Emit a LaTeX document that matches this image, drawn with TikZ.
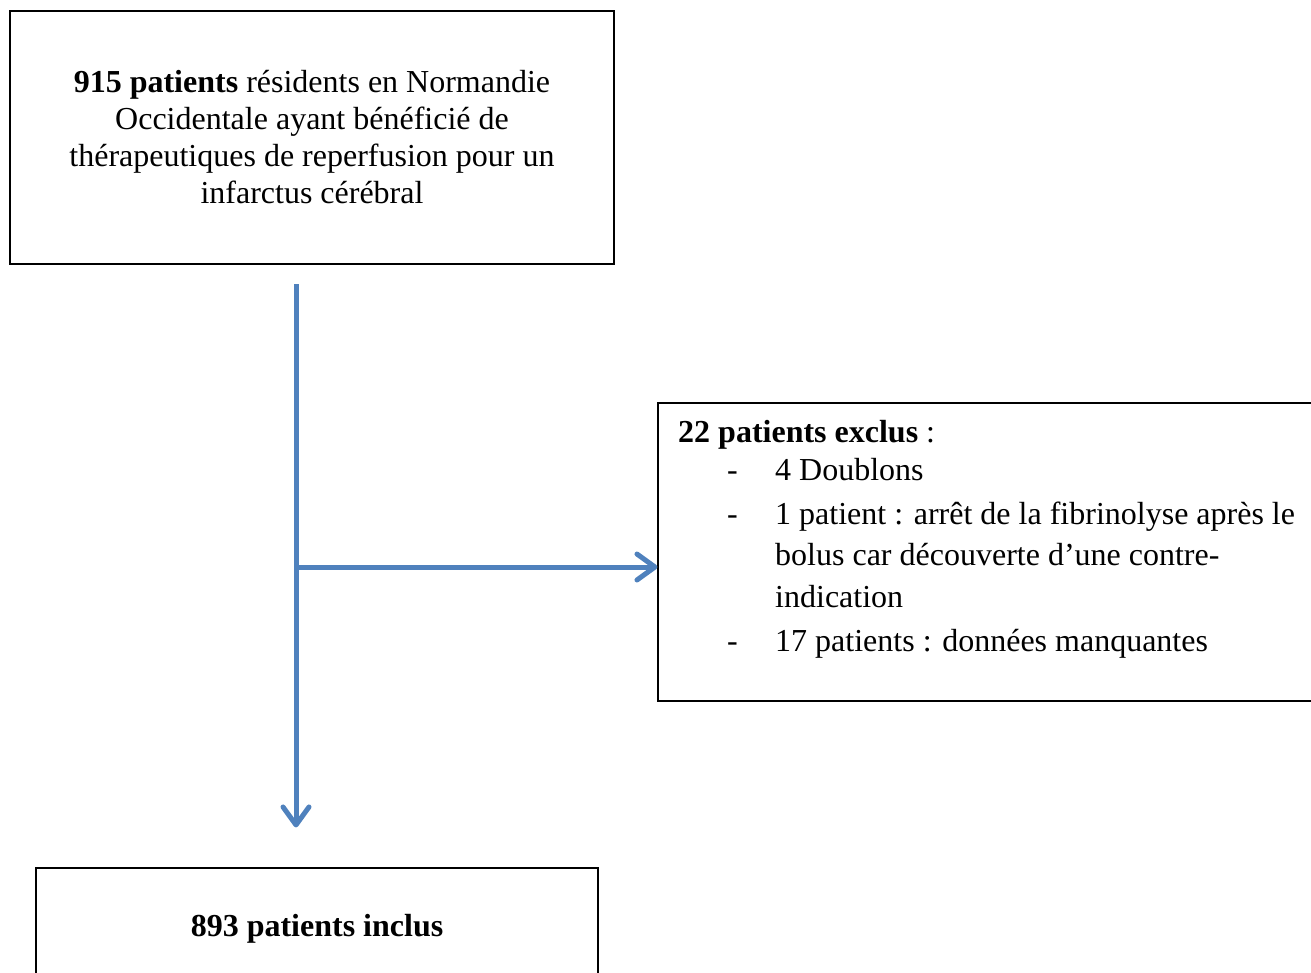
\documentclass[tikz,border=0pt]{standalone}
\usepackage{fontspec}
\setmainfont{Liberation Serif}
\usetikzlibrary{arrows.meta}
\definecolor{arrowblue}{RGB}{79,129,189}
\tikzset{
  box/.style={draw=black, line width=1.1pt, rectangle, inner sep=0pt},
  txt/.style={inner sep=0pt, anchor=base west, font=\fontsize{32}{37}\selectfont},
  flow/.style={draw=arrowblue, line width=5pt, -{Straight Barb[length=18pt,width=26pt,round]}},
  branchline/.style={draw=arrowblue, line width=5pt}
}
\begin{document}
\begin{tikzpicture}[x=1pt,y=-1pt]
\useasboundingbox (0,0) rectangle (1311,972);
\clip (0,0) rectangle (1311,972);
% boxes
\node[box, minimum width=604pt, minimum height=253pt, align=center,
      font=\fontsize{32}{37}\selectfont] (top) at (312,137.5)
  {\textbf{915 patients} résidents en Normandie\\
   Occidentale ayant bénéficié de\\
   thérapeutiques de reperfusion pour un\\
   infarctus cérébral};
\node[box, minimum width=672pt, minimum height=298pt] (excl) at (994,552) {};
\node[box, minimum width=562pt, minimum height=142pt] (incl) at (317,939) {};
% texts
\node[txt, anchor=base] (incltxt) at (317,936) {\textbf{893 patients inclus}};
\node[txt] (e0) at (678,442) {\textbf{22 patients exclus} :};
\node[txt] (d1) at (727,480) {-};
\node[txt] (e1) at (775,480) {4 Doublons};
\node[txt] (d2) at (727,524) {-};
\node[txt] (e2) at (775,524) {1 patient : arrêt de la fibrinolyse après le};
\node[txt] (e3) at (775,565) {bolus car découverte d’une contre-};
\node[txt] (e4) at (775,607) {indication};
\node[txt] (d3) at (727,651) {-};
\node[txt] (e5) at (775,651) {17 patients : données manquantes};
% connectors
\coordinate (vs) at (296,284);
\coordinate (branch) at (296,567);
\draw[flow, shorten >=40pt] (vs) -- (vs |- incl.north);
\draw[flow] (branch) -- (branch -| excl.west);
\end{tikzpicture}
\end{document}
